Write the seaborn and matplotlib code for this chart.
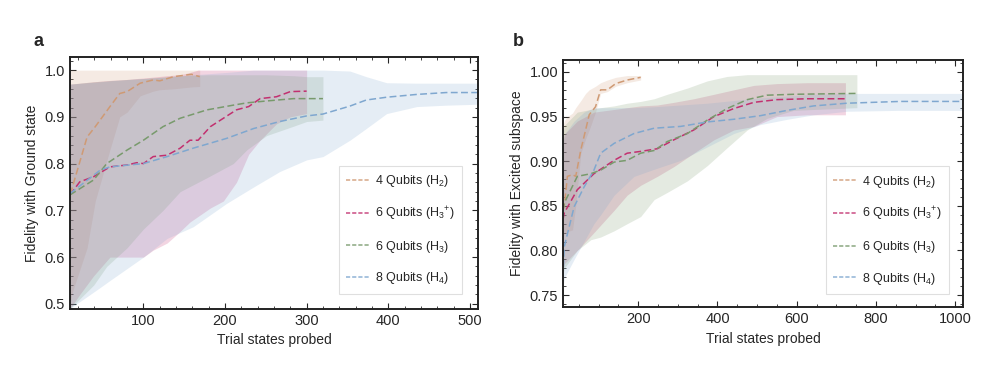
import numpy as np
import pandas as pd
import seaborn as sns
import matplotlib.pyplot as plt
from matplotlib.ticker import MultipleLocator

labels = ['4 Qubits (H$_2$)', '6 Qubits (H$_3$$^{+}$)', '6 Qubits (H$_3$)', '8 Qubits (H$_4$)']
colors = ['#cf9a74', '#c2306f', '#789a6c', '#7fa7cf']

# ---------------- panel a: ground state ----------------
a_h2_x = [10, 12, 31, 41, 59, 71, 80, 96, 112, 120, 137, 159, 169]
a_h2_y = [0.735, 0.744, 0.857, 0.879, 0.922, 0.950, 0.954, 0.972, 0.979, 0.977, 0.986, 0.991, 0.986]
a_h2_lo = [0.49, 0.52, 0.62, 0.72, 0.83, 0.90, 0.91, 0.945, 0.955, 0.958, 0.96, 0.964, 0.965]
a_h2_hi = [1.0] * 13

a_h3p_x = [10, 22, 39, 59, 80, 92, 100, 112, 129, 145, 157, 167, 182, 198, 214, 229, 243, 263, 280, 300]
a_h3p_y = [0.733, 0.761, 0.772, 0.793, 0.797, 0.802, 0.800, 0.815, 0.818, 0.833, 0.850, 0.850,
           0.879, 0.897, 0.915, 0.922, 0.939, 0.943, 0.954, 0.955]
a_h3p_lo = [0.49, 0.52, 0.56, 0.60, 0.60, 0.60, 0.60, 0.615, 0.63, 0.655, 0.675, 0.687,
            0.705, 0.72, 0.76, 0.82, 0.85, 0.885, 0.90, 0.907]
a_h3p_hi = [0.97, 0.972, 0.975, 0.978, 0.98, 0.982, 0.983, 0.985, 0.988, 0.99, 0.995, 1.0,
            1.0, 1.0, 1.0, 1.0, 1.0, 1.0, 1.0, 1.0]

a_h3_x = [10, 39, 55, 80, 100, 124, 145, 178, 210, 227, 251, 284, 300, 320]
a_h3_y = [0.733, 0.765, 0.800, 0.829, 0.850, 0.879, 0.897, 0.915, 0.925, 0.930, 0.934, 0.939, 0.939, 0.939]
a_h3_lo = [0.49, 0.54, 0.58, 0.62, 0.66, 0.70, 0.74, 0.77, 0.80, 0.83, 0.86, 0.88, 0.89, 0.893]
a_h3_hi = [0.97, 0.975, 0.977, 0.98, 0.982, 0.985, 0.988, 0.99, 0.99, 0.99, 0.99, 0.988, 0.986, 0.986]

a_h4_x = [10, 47, 59, 100, 129, 161, 202, 235, 267, 300, 320, 353, 373, 398, 435, 471, 510]
a_h4_y = [0.736, 0.786, 0.793, 0.800, 0.815, 0.833, 0.854, 0.875, 0.890, 0.902, 0.906, 0.923,
          0.936, 0.942, 0.948, 0.952, 0.952]
a_h4_lo = [0.49, 0.535, 0.55, 0.60, 0.64, 0.665, 0.715, 0.75, 0.783, 0.808, 0.815, 0.85,
           0.875, 0.907, 0.922, 0.925, 0.927]
a_h4_hi = [0.97, 0.975, 0.977, 0.982, 0.985, 0.99, 0.995, 1.0, 1.0, 1.0, 1.0, 0.998,
           0.986, 0.973, 0.972, 0.972, 0.972]

# ---------------- panel b: excited subspace ----------------
b_h2_x = [10, 14, 21, 34, 42, 55, 67, 76, 92, 105, 122, 143, 172, 206]
b_h2_y = [0.845, 0.853, 0.883, 0.885, 0.883, 0.913, 0.935, 0.952, 0.961, 0.980, 0.980, 0.987, 0.991, 0.994]
b_h2_lo = [0.815, 0.819, 0.821, 0.823, 0.85, 0.909, 0.925, 0.935, 0.955, 0.976, 0.978, 0.984, 0.988, 0.991]
b_h2_hi = [0.94, 0.946, 0.95, 0.954, 0.96, 0.968, 0.976, 0.98, 0.984, 0.988, 0.991, 0.994, 0.996, 0.996]

b_h3p_x = [10, 13, 46, 88, 139, 172, 206, 248, 290, 340, 391, 441, 492, 550, 626, 723]
b_h3p_y = [0.835, 0.842, 0.868, 0.886, 0.901, 0.909, 0.911, 0.914, 0.924, 0.935, 0.950, 0.959,
           0.966, 0.969, 0.970, 0.970]
b_h3p_lo = [0.78, 0.785, 0.80, 0.82, 0.845, 0.862, 0.873, 0.883, 0.894, 0.909, 0.924, 0.935,
            0.939, 0.950, 0.952, 0.952]
b_h3p_hi = [0.92, 0.93, 0.945, 0.955, 0.958, 0.96, 0.962, 0.963, 0.966, 0.97, 0.975, 0.98,
            0.985, 0.987, 0.988, 0.988]

b_h3_x = [10, 13, 46, 80, 105, 139, 172, 206, 240, 273, 324, 374, 424, 475, 525, 592, 752]
b_h3_y = [0.845, 0.853, 0.883, 0.886, 0.890, 0.899, 0.901, 0.909, 0.912, 0.922, 0.931, 0.946,
          0.959, 0.969, 0.974, 0.975, 0.976]
b_h3_lo = [0.775, 0.78, 0.80, 0.812, 0.815, 0.822, 0.83, 0.838, 0.857, 0.865, 0.878, 0.895,
           0.915, 0.935, 0.948, 0.957, 0.96]
b_h3_hi = [0.93, 0.94, 0.955, 0.958, 0.96, 0.962, 0.965, 0.967, 0.97, 0.975, 0.982, 0.99,
           0.995, 0.997, 0.997, 0.997, 0.997]

b_h4_x = [10, 13, 38, 63, 88, 105, 139, 189, 240, 307, 374, 441, 508, 576, 643, 727, 861, 1020]
b_h4_y = [0.77, 0.804, 0.849, 0.871, 0.890, 0.909, 0.920, 0.931, 0.937, 0.939, 0.944, 0.947,
          0.951, 0.957, 0.962, 0.965, 0.967, 0.967]
b_h4_lo = [0.76, 0.769, 0.79, 0.81, 0.83, 0.84, 0.862, 0.883, 0.891, 0.901, 0.916, 0.931,
           0.941, 0.947, 0.952, 0.956, 0.957, 0.957]
b_h4_hi = [0.92, 0.93, 0.945, 0.955, 0.96, 0.96, 0.96, 0.96, 0.961, 0.963, 0.965, 0.968,
           0.971, 0.973, 0.975, 0.976, 0.976, 0.976]

panel_a = [(a_h2_x, a_h2_y, a_h2_lo, a_h2_hi), (a_h3p_x, a_h3p_y, a_h3p_lo, a_h3p_hi),
           (a_h3_x, a_h3_y, a_h3_lo, a_h3_hi), (a_h4_x, a_h4_y, a_h4_lo, a_h4_hi)]
panel_b = [(b_h2_x, b_h2_y, b_h2_lo, b_h2_hi), (b_h3p_x, b_h3p_y, b_h3p_lo, b_h3p_hi),
           (b_h3_x, b_h3_y, b_h3_lo, b_h3_hi), (b_h4_x, b_h4_y, b_h4_lo, b_h4_hi)]

sns.set_style('ticks')
plt.rcParams['font.family'] = ['Liberation Sans', 'DejaVu Sans']
plt.rcParams['mathtext.fontset'] = 'custom'
plt.rcParams['mathtext.rm'] = 'Liberation Sans'
plt.rcParams['mathtext.it'] = 'Liberation Sans'

fig = plt.figure(figsize=(10.04, 3.70), dpi=100)
ax_a = fig.add_axes([0.0697, 0.1649, 0.4064, 0.681])
ax_b = fig.add_axes([0.5608, 0.170, 0.3984, 0.668])


def draw(ax, series, anchor):
    frames = []
    for (x, y, lo, hi), lab, c in zip(series, labels, colors):
        ax.fill_between(x, lo, hi, color=c, alpha=0.2, linewidth=0)
        frames.append(pd.DataFrame({'x': x, 'y': y, 'series': lab}))
    df = pd.concat(frames, ignore_index=True)
    sns.lineplot(data=df, x='x', y='y', hue='series', palette=colors, ax=ax,
                 linewidth=1.1, sort=False, estimator=None)
    for line in ax.get_lines():
        line.set_linestyle((0, (4.5, 2.2)))
    leg = ax.legend(loc='lower right', bbox_to_anchor=anchor, fontsize=9,
                    frameon=True, fancybox=False, edgecolor='#d8d8d8', labelspacing=1.25,
                    handlelength=1.8, borderpad=0.6, handletextpad=0.5, borderaxespad=0)
    leg.get_frame().set_linewidth(0.8)
    for h in leg.get_lines():
        h.set_linestyle((0, (2.5, 1.2)))
        h.set_linewidth(1.2)
        h.set_alpha(0.8)
    ax.set_xlabel('Trial states probed', fontsize=10)
    for s in ax.spines.values():
        s.set_linewidth(1.4)
        s.set_color('#222222')
    ax.tick_params(which='both', direction='in', top=True, right=True, labelsize=10.5)
    ax.tick_params(which='major', length=4, width=0.8)
    ax.tick_params(which='minor', length=2, width=0.6)


draw(ax_a, panel_a, (0.961, 0.06))
ax_a.set_xlim(10, 510)
ax_a.set_ylim(0.489, 1.028)
ax_a.xaxis.set_major_locator(MultipleLocator(100))
ax_a.xaxis.set_minor_locator(MultipleLocator(20))
ax_a.yaxis.set_major_locator(MultipleLocator(0.1))
ax_a.yaxis.set_minor_locator(MultipleLocator(0.02))
ax_a.yaxis.set_major_formatter(plt.FormatStrFormatter('%.1f'))
ax_a.set_ylabel('Fidelity with Ground state', fontsize=10)

draw(ax_b, panel_b, (0.965, 0.053))
ax_b.set_xlim(10, 1020)
ax_b.set_ylim(0.7365, 1.0135)
ax_b.xaxis.set_major_locator(MultipleLocator(200))
ax_b.xaxis.set_minor_locator(MultipleLocator(50))
ax_b.yaxis.set_major_locator(MultipleLocator(0.05))
ax_b.yaxis.set_minor_locator(MultipleLocator(0.01))
ax_b.yaxis.set_major_formatter(plt.FormatStrFormatter('%.2f'))
ax_b.set_ylabel('Fidelity with Excited subspace', fontsize=10)

fig.text(0.033, 0.875, 'a', fontsize=13, fontweight='bold')
fig.text(0.511, 0.875, 'b', fontsize=13, fontweight='bold')

fig.savefig('out.png', dpi=100)
